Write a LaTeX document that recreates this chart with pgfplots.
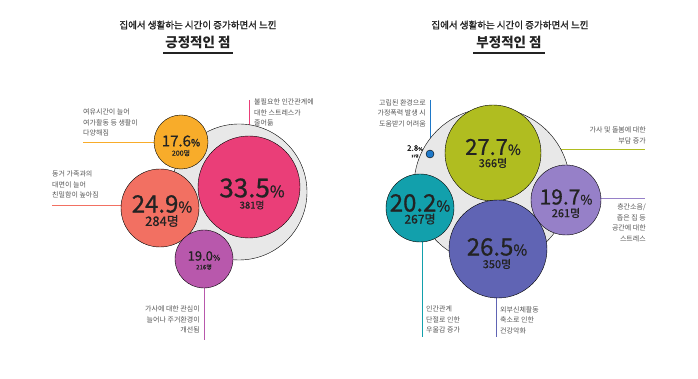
\documentclass[border=0pt]{standalone}
\usepackage{pgfplots}
\pgfplotsset{compat=1.18}
\usepackage{fontspec}
\setmainfont{Noto Sans CJK KR}
\newfontfamily\numfont[FakeBold=0.8]{Noto Sans CJK KR}
\newfontfamily\titfont[FakeBold=1.2]{Noto Sans CJK KR}
\definecolor{cOrange}{RGB}{248,172,42}
\definecolor{cSalmon}{RGB}{242,112,98}
\definecolor{cPink}{RGB}{234,62,120}
\definecolor{cPurple}{RGB}{184,88,172}
\definecolor{cGray}{RGB}{232,232,232}
\definecolor{cOlive}{RGB}{176,189,32}
\definecolor{cBlue}{RGB}{30,120,200}
\definecolor{cTeal}{RGB}{18,160,172}
\definecolor{cLilac}{RGB}{150,128,200}
\definecolor{cViolet}{RGB}{96,100,180}
\definecolor{cText}{RGB}{35,35,35}
\definecolor{cLabel}{RGB}{85,85,85}
\newcommand{\pct}[3]{{\numfont\fontsize{#1}{#1}\selectfont #3{\fontsize{#2}{#2}\selectfont\%}}}
\newcommand{\cnt}[2]{{\numfont\fontsize{#1}{#1}\selectfont #2명}}
\pgfplotsset{bub/.style={only marks, mark=*, mark options={draw=none, fill=#1}}}
\begin{document}
\begin{tikzpicture}
\begin{axis}[width=698pt,height=379pt,scale only axis,set layers,
  xmin=0,xmax=698,ymin=0,ymax=379,y dir=reverse,hide axis,clip=false]
\path (axis cs:0,0) rectangle (axis cs:698,379);

% ---------- left panel ----------
\addplot[bub=cGray, mark size=68] coordinates {(239,192)};
\addplot[cOrange, line width=0.6pt] coordinates {(83,142) (165,142)};
\addplot[cSalmon, line width=0.6pt] coordinates {(52,205) (130,205)};
\addplot[cPink, line width=0.6pt] coordinates {(249,100) (249,150)};
\addplot[cPurple, line width=0.6pt] coordinates {(204,275) (204,340)};
\addplot[bub=cSalmon, mark size=39] coordinates {(160,208)};
\addplot[bub=cOrange, mark size=27] coordinates {(181,142)};
\addplot[bub=cPink, mark size=51] coordinates {(249,187)};
\addplot[bub=cPurple, mark size=29] coordinates {(204,259)};

% ---------- right panel ----------
\addplot[bub=cGray, mark size=78] coordinates {(492,186)};
\addplot[cBlue, line width=0.6pt] coordinates {(430,100) (430,154)};
\addplot[cOlive, line width=0.6pt] coordinates {(520,149) (645,149)};
\addplot[cLilac, line width=0.6pt] coordinates {(585,198) (645,198)};
\addplot[cTeal, line width=0.6pt] coordinates {(422,225) (422,337)};
\addplot[cViolet, line width=0.6pt] coordinates {(496,285) (496,337)};
\addplot[bub=cOlive, mark size=48] coordinates {(493,153)};
\addplot[bub=cTeal, mark size=34] coordinates {(420,208)};
\addplot[bub=cLilac, mark size=35] coordinates {(566,200)};
\addplot[bub=cViolet, mark size=49] coordinates {(498,249)};
\addplot[bub=cBlue, mark size=4] coordinates {(430,154)};

\begin{pgfonlayer}{axis foreground}
% titles
\node[text=cText,font=\titfont\fontsize{9.5}{10}\selectfont] at (axis cs:198,25) {집에서 생활하는 시간이 증가하면서 느낀};
\node[text=cText,font=\fontsize{13.5}{14}\selectfont\bfseries] at (axis cs:198,42) {긍정적인 점};
\draw[cText,line width=1.2pt] (axis cs:163,53) -- (axis cs:233,53);
\node[text=cText,font=\titfont\fontsize{9.5}{10}\selectfont] at (axis cs:510,25) {집에서 생활하는 시간이 증가하면서 느낀};
\node[text=cText,font=\fontsize{13.5}{14}\selectfont\bfseries] at (axis cs:509,42) {부정적인 점};
\draw[cText,line width=1.2pt] (axis cs:473,53) -- (axis cs:545,53);

\node[text=cText] at (axis cs:181,141) {\pct{15}{10}{17.6}};
\node[text=cText] at (axis cs:181,153) {\cnt{7}{200}};
\node[text=cText] at (axis cs:162,204) {\pct{24}{15}{24.9}};
\node[text=cText] at (axis cs:162,221) {\cnt{13}{284}};
\node[text=cText] at (axis cs:252,188) {\pct{26}{16}{33.5}};
\node[text=cText] at (axis cs:252,205) {\cnt{9.5}{381}};
\node[text=cText] at (axis cs:204,256) {\pct{13}{8}{19.0}};
\node[text=cText] at (axis cs:204,267) {\cnt{6}{216}};

\node[text=cText] at (axis cs:493,147) {\pct{22}{14}{27.7}};
\node[text=cText] at (axis cs:493,163) {\cnt{11}{366}};
\node[text=cText] at (axis cs:420,203) {\pct{24}{15}{20.2}};
\node[text=cText] at (axis cs:420,219) {\cnt{12}{267}};
\node[text=cText] at (axis cs:566,197) {\pct{21}{13}{19.7}};
\node[text=cText] at (axis cs:566,213) {\cnt{11}{261}};
\node[text=cText] at (axis cs:497,247) {\pct{24}{15}{26.5}};
\node[text=cText] at (axis cs:497,264) {\cnt{11}{350}};
\node[text=cText] at (axis cs:415,148) {\pct{8}{5}{2.8}};
\node[text=cText] at (axis cs:415,156) {\cnt{3.5}{37}};

\begin{scope}[every node/.style={text=cLabel,inner sep=0pt,font=\fontsize{7}{10.5}\selectfont}]
\node[anchor=north west,align=left] at (axis cs:83,109) {여유시간이 늘어\\여가활동 등 생활이\\다양해짐};
\node[anchor=north west,align=left] at (axis cs:52,171) {동거 가족과의\\대면이 늘어\\친밀함이 높아짐};
\node[anchor=north west,align=left] at (axis cs:254,99) {불필요한 인간관계에\\대한 스트레스가\\줄어듦};
\node[anchor=north east,align=right] at (axis cs:200,306) {가사에 대한 관심이\\늘어나 주거환경이\\개선됨};
\node[anchor=north east,align=right] at (axis cs:426,99) {고립된 환경으로\\가정폭력 발생 시\\도움받기 어려움};
\node[anchor=north east,align=right] at (axis cs:646,127) {가사 및 돌봄에 대한\\부담 증가};
\node[anchor=north east,align=right] at (axis cs:646,204) {층간소음/\\좁은 집 등\\공간에 대한\\스트레스};
\node[anchor=north west,align=left] at (axis cs:426,306) {인간관계\\단절로 인한\\우울감 증가};
\node[anchor=north west,align=left] at (axis cs:500,306) {외부신체활동\\축소로 인한\\건강악화};
\end{scope}
\end{pgfonlayer}
\end{axis}
\end{tikzpicture}
\end{document}
